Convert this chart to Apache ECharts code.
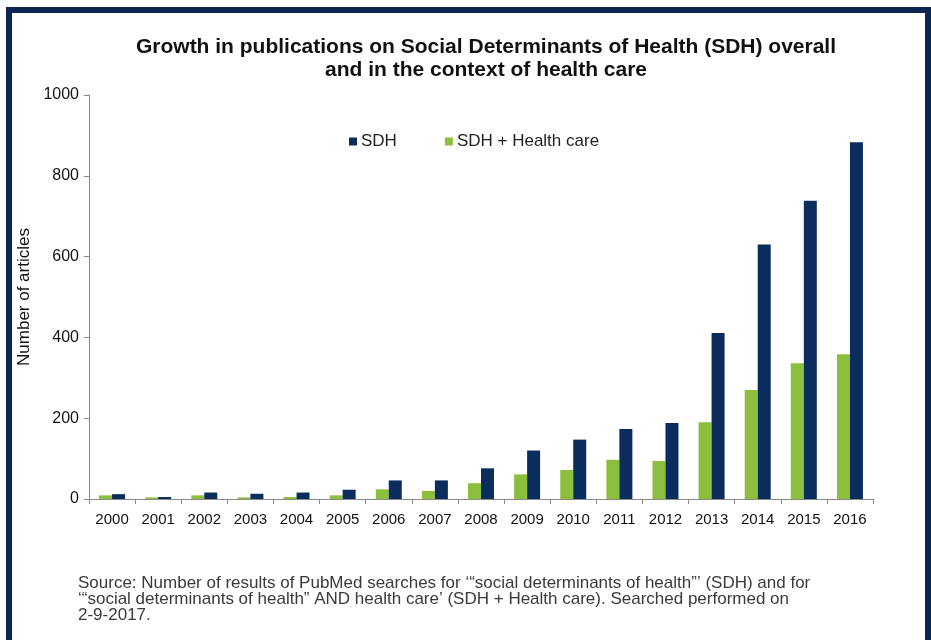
<!DOCTYPE html>
<html>
<head>
<meta charset="utf-8">
<script src="https://cdn.jsdelivr.net/npm/echarts@6/dist/echarts.min.js"></script>
<style>
html,body{margin:0;padding:0;background:#fff;}
#wrap{position:relative;width:931px;height:640px;overflow:hidden;background:#fff;}
#frame{position:absolute;left:6px;top:7px;width:925px;height:700px;box-sizing:border-box;border:6px solid #0b2651;border-bottom:none;}
#chart{position:absolute;left:0;top:0;width:931px;height:640px;}
</style>
</head>
<body>
<div id="wrap"><div id="frame"></div><div id="chart"></div></div>
<script>
const years = ['2000','2001','2002','2003','2004','2005','2006','2007','2008','2009','2010','2011','2012','2013','2014','2015','2016'];
const sdhValues = [12, 5, 16, 13, 16, 23, 46, 46, 76, 120, 147, 173, 188, 411, 630, 738, 883];
const sdhCareValues = [9, 4, 9, 4, 5, 9, 24, 20, 39, 61, 72, 97, 94, 190, 270, 336, 358];
const yTicks = [0, 200, 400, 600, 800, 1000];
const titleLines = ['Growth in publications on Social Determinants of Health (SDH) overall', 'and in the context of health care'];
const sourceLines = [
  'Source: Number of results of PubMed searches for \u2018\u201Csocial determinants of health\u201D\u2019 (SDH) and for',
  '\u2018\u201Csocial determinants of health\u201D AND health care\u2019 (SDH + Health care). Searched performed on',
  '2-9-2017.'
];

const chart = echarts.init(document.getElementById('chart'), null, {renderer: 'canvas'});
const font = '"Liberation Sans", Arial, Helvetica, sans-serif';
chart.setOption({
  backgroundColor: 'transparent',
  animation: false,
  textStyle: {fontFamily: font},
  title: {
    text: titleLines.join('\n'),
    left: 481, top: 31, textAlign: 'center',
    textStyle: {fontFamily: font, fontSize: 21, fontWeight: 'bold', color: '#111', lineHeight: 23}
  },
  legend: {
    data: [
      {name: 'SDH', icon: 'rect'},
      {name: 'SDH + Health care', icon: 'rect'}
    ],
    left: 344, top: 128, itemWidth: 8, itemHeight: 8, itemGap: 48,
    textStyle: {fontFamily: font, fontSize: 17, color: '#222', padding: [0,0,0,-1]}
  },
  grid: {left: 89, right: 58, top: 95, bottom: 141, containLabel: false},
  xAxis: {
    type: 'category', data: years,
    axisLine: {lineStyle: {color: '#8a8a8a', width: 1}},
    axisTick: {show: true, length: 5, lineStyle: {color: '#8a8a8a'}},
    axisLabel: {fontFamily: font, fontSize: 15, color: '#111', margin: 13, interval: 0}
  },
  yAxis: {
    type: 'value', min: 0, max: 1000, interval: 200,
    name: 'Number of articles', nameLocation: 'middle', nameGap: 50, nameRotate: 90,
    nameTextStyle: {fontFamily: font, fontSize: 17, color: '#111'},
    axisLine: {show: true, lineStyle: {color: '#8a8a8a', width: 1}},
    axisTick: {show: true, length: 5, lineStyle: {color: '#8a8a8a'}},
    axisLabel: {fontFamily: font, fontSize: 16, color: '#111', margin: 10,
      formatter: v => yTicks.includes(v) ? String(v) : ''},
    splitLine: {show: false}
  },
  series: [
    {name: 'SDH + Health care', type: 'bar', data: sdhCareValues, barWidth: 13, barGap: '0%',
      itemStyle: {color: '#8dbf3e'}, z: 2},
    {name: 'SDH', type: 'bar', data: sdhValues, barWidth: 13, barGap: '0%',
      itemStyle: {color: '#0b2d5e'}, z: 2}
  ],
  graphic: sourceLines.map((t, i) => ({
    type: 'text', left: 78, top: 575 + i * 16,
    style: {text: t, font: '17px "Liberation Sans", Arial, sans-serif', fill: '#3a3a3a'}
  }))
});
</script>
</body>
</html>
